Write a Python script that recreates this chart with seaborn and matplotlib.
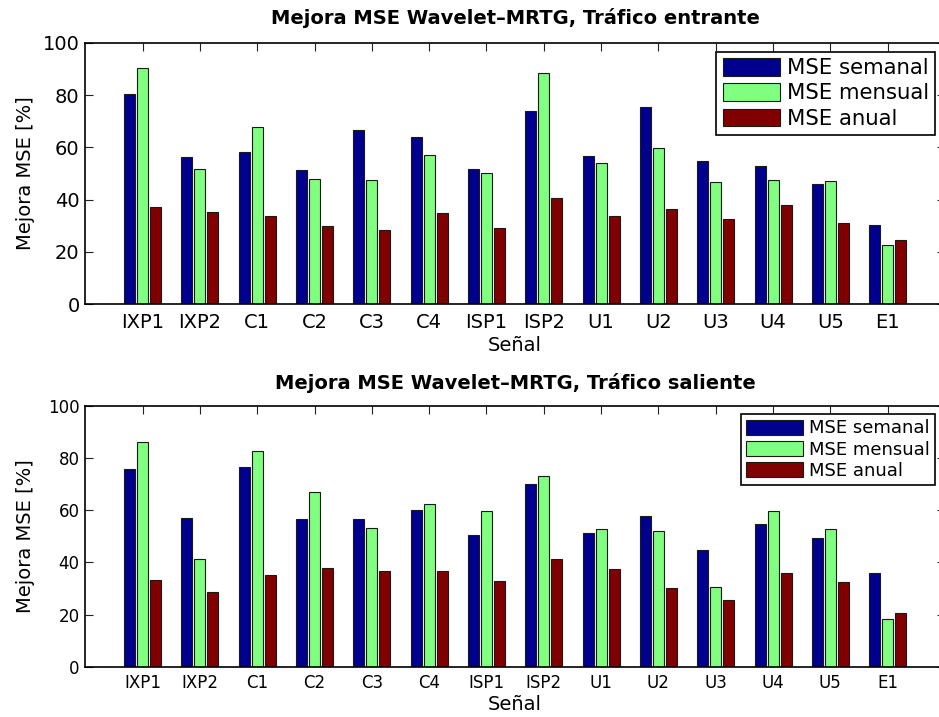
import matplotlib
matplotlib.use("Agg")
import matplotlib.pyplot as plt
import seaborn as sns
import pandas as pd

# Signals on the x axis
senales = ["IXP1", "IXP2", "C1", "C2", "C3", "C4", "ISP1", "ISP2",
           "U1", "U2", "U3", "U4", "U5", "E1"]
series = ["MSE semanal", "MSE mensual", "MSE anual"]

# MSE improvement [%], incoming traffic
semanal_entrante = [80.5, 56.4, 58.4, 51.4, 66.8, 63.8, 51.8, 74.0, 56.6, 75.4, 54.8, 52.9, 46.0, 30.1]
mensual_entrante = [90.4, 51.8, 67.7, 48.0, 47.6, 57.1, 50.3, 88.5, 54.2, 59.9, 46.6, 47.6, 47.2, 22.6]
anual_entrante = [37.0, 35.3, 33.8, 29.8, 28.2, 34.9, 29.3, 40.6, 33.8, 36.4, 32.4, 37.9, 31.0, 24.5]

# MSE improvement [%], outgoing traffic
semanal_saliente = [75.7, 57.1, 76.4, 56.8, 56.6, 60.0, 50.4, 69.9, 51.3, 57.7, 44.7, 54.8, 49.3, 36.1]
mensual_saliente = [86.0, 41.3, 82.7, 66.8, 53.1, 62.5, 59.6, 73.2, 52.9, 52.2, 30.6, 59.6, 52.9, 18.3]
anual_saliente = [33.2, 28.7, 35.2, 37.7, 36.6, 36.7, 32.9, 41.3, 37.5, 30.3, 25.7, 35.9, 32.4, 20.6]

y_ticks = [0, 20, 40, 60, 80, 100]
colores = ["#00008F", "#80FF80", "#800000"]


def long_table(sem, men, anu):
    rows = []
    for name, vals in zip(series, (sem, men, anu)):
        for s, v in zip(senales, vals):
            rows.append({"Señal": s, "Serie": name, "Mejora": v})
    return pd.DataFrame(rows)


sns.set_style("ticks")
plt.rcParams["font.family"] = ["DejaVu Sans"]
plt.rcParams.update({
    "text.color": "black",
    "axes.labelcolor": "black",
    "xtick.color": "black",
    "ytick.color": "black",
    "axes.edgecolor": "black",
})

fig = plt.figure(figsize=(9.39, 7.17), dpi=100)

W, H = 939.0, 717.0
left = 85.3 / W
width = (945.0 - 85.3) / W

panels = [
    dict(df=long_table(semanal_entrante, mensual_entrante, anual_entrante),
         rect=[left, 1 - 304.0 / H, width, 261.0 / H],
         title="Mejora MSE Wavelet\u2013MRTG, Tráfico entrante", title_pad=13.7,
         tick_fs=14, tick_pad=6.5, xlabel_y=-0.124,
         leg_fs=15.3, leg_anchor=(0.9884, 0.9667), leg_hl=2.7, leg_ls=0.24),
    dict(df=long_table(semanal_saliente, mensual_saliente, anual_saliente),
         rect=[left, 1 - 667.0 / H, width, 261.3 / H],
         title="Mejora MSE Wavelet\u2013MRTG, Tráfico saliente", title_pad=11.8,
         tick_fs=12, tick_pad=5.4, xlabel_y=-0.108,
         leg_fs=13, leg_anchor=(0.9884, 0.968), leg_hl=3.15, leg_ls=0.18),
]

for p in panels:
    ax = fig.add_axes(p["rect"])
    sns.barplot(data=p["df"], x="Señal", y="Mejora", hue="Serie",
                order=senales, hue_order=series, palette=colores,
                width=0.68, gap=0.16, edgecolor="#1a1a1a", linewidth=0.8,
                saturation=1, errorbar=None, legend=True, ax=ax)

    ax.set_xlim(-1, 14)
    ax.set_ylim(0, 100)
    ax.set_yticks(y_ticks)
    ax.set_yticklabels([str(t) for t in y_ticks])

    for sp in ax.spines.values():
        sp.set_visible(True)
        sp.set_color("black")
        sp.set_linewidth(1.2)

    ax.tick_params(axis="both", direction="in", length=5.8, width=0.8,
                   color="#222222", labelcolor="black", top=True, right=True,
                   labelsize=p["tick_fs"])
    ax.tick_params(axis="x", pad=p["tick_pad"])
    ax.tick_params(axis="y", pad=4)

    ax.set_title(p["title"], fontsize=14, fontweight="bold", color="black",
                 pad=p["title_pad"])
    ax.set_ylabel("Mejora MSE [%]", fontsize=14, color="black")
    ax.set_xlabel("Señal", fontsize=14, va="top", color="black")
    ax.yaxis.set_label_coords(-0.058, 0.5)
    ax.xaxis.set_label_coords(0.5, p["xlabel_y"])

    handles, labels = ax.get_legend_handles_labels()
    leg = ax.legend(handles, labels, loc="upper right",
                    bbox_to_anchor=p["leg_anchor"], borderaxespad=0,
                    fontsize=p["leg_fs"], frameon=True, fancybox=False,
                    framealpha=1, edgecolor="black", handlelength=p["leg_hl"],
                    handleheight=0.9, handletextpad=0.3,
                    labelspacing=p["leg_ls"], borderpad=0.3)
    leg.get_frame().set_linewidth(1.2)
    for t in leg.get_texts():
        t.set_color("black")

fig.savefig("out.png", dpi=100)
